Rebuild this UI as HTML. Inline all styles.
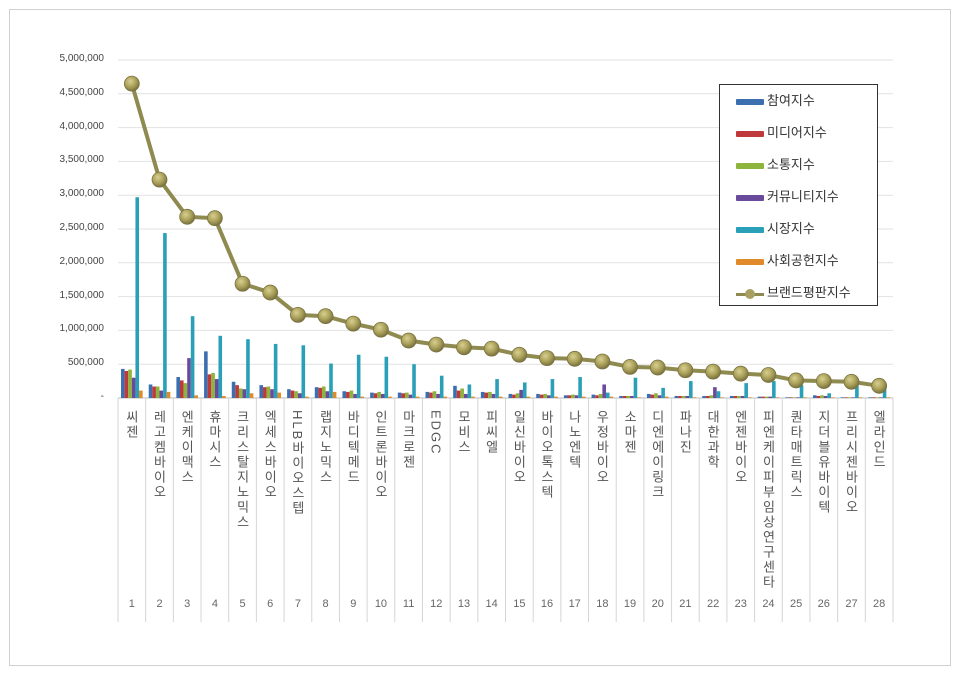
<!DOCTYPE html>
<html><head><meta charset="utf-8">
<style>
body{margin:0;width:960px;height:673px;background:#fff;position:relative;overflow:hidden;font-family:"Liberation Sans","Noto Sans CJK KR",sans-serif}
#frame{position:absolute;left:9px;top:9px;width:940px;height:655px;border:1px solid #d0d0d0}
.yl{position:absolute;width:80px;text-align:right;font-size:10px;color:#444;left:24px}
.xl{position:absolute;writing-mode:vertical-rl;text-orientation:mixed;font-size:13px;color:#555;top:410px;letter-spacing:2px;line-height:14px}
.num{position:absolute;font-size:11px;color:#666;top:598px;width:28px;text-align:center}
#leg{position:absolute;left:719px;top:84px;width:157px;height:220px;border:1px solid #333;background:#fff}
.li{position:absolute;left:16px;font-size:13px;color:#333;height:20px;line-height:20px}
.sw{display:inline-block;width:28px;height:6px;margin-right:3px;vertical-align:middle;border-radius:1px}
</style></head><body>
<div id="frame"></div>
<svg id="s" width="960" height="673" style="position:absolute;left:0;top:0"></svg>
<div id="lbl"></div>
<div id="leg">
<div class="li" style="top:6px"><span class="sw" style="background:#3c6fb0"></span>참여지수</div>
<div class="li" style="top:38px"><span class="sw" style="background:#c0393a"></span>미디어지수</div>
<div class="li" style="top:70px"><span class="sw" style="background:#8db43c"></span>소통지수</div>
<div class="li" style="top:102px"><span class="sw" style="background:#6a4a9a"></span>커뮤니티지수</div>
<div class="li" style="top:134px"><span class="sw" style="background:#2aa0b8"></span>시장지수</div>
<div class="li" style="top:166px"><span class="sw" style="background:#e08a2a"></span>사회공헌지수</div>
<div class="li" style="top:198px"><span style="display:inline-block;width:28px;height:12px;margin-right:3px;vertical-align:middle;position:relative"><span style="position:absolute;left:0;top:5px;width:28px;height:3px;background:#8e8a50"></span><span style="position:absolute;left:9px;top:1px;width:10px;height:10px;border-radius:50%;background:#a8a060"></span></span>브랜드평판지수</div>
</div>
<script>
const names=["씨젠","레고켐바이오","엔케이맥스","휴마시스","크리스탈지노믹스","엑세스바이오","HLB바이오스텝","랩지노믹스","바디텍메드","인트론바이오","마크로젠","EDGC","모비스","피씨엘","일신바이오","바이오톡스텍","나노엔텍","우정바이오","소마젠","디엔에이링크","파나진","대한과학","엔젠바이오","피엔케이피부임상연구센타","퀀타매트릭스","지더블유바이텍","프리시젠바이오","엘라인드"];
const line=[4650,3230,2680,2660,1690,1560,1230,1210,1100,1010,850,790,750,730,640,590,580,540,460,450,410,390,360,340,260,250,240,180];
const bars=[[430,400,420,300,2970,110],[200,170,170,110,2440,90],[310,260,220,590,1210,40],[690,350,370,280,920,30],[240,190,140,130,870,70],[190,160,170,130,800,80],[130,110,100,70,780,20],[160,150,170,100,510,90],[100,90,110,60,640,20],[80,70,90,60,610,20],[80,70,80,50,500,20],[90,80,100,60,330,20],[180,110,140,60,200,20],[90,80,90,60,280,20],[60,50,70,120,230,20],[60,50,60,40,280,20],[40,40,50,40,310,20],[50,40,60,200,80,20],[30,30,30,30,300,10],[60,50,70,40,150,20],[30,30,30,30,250,10],[30,30,40,160,100,10],[30,30,30,30,220,10],[20,20,20,20,250,10],[10,10,10,10,190,10],[40,30,40,30,70,10],[10,10,10,10,190,10],[10,10,10,10,160,10]];
const cols=["#3c6fb0","#c0393a","#8db43c","#6a4a9a","#2aa0b8","#e08a2a"];
const y0=398,sc=(398-60)/5000,x0=118,cw=(893-118)/28;
let h="";
for(let i=0;i<=10;i++){const y=y0-i*500*sc;
 if(i>0)h+=`<line x1="118" x2="893" y1="${y}" y2="${y}" stroke="#e2e2e2"/>`;
 const t=i==0?"-":(i*500000).toLocaleString("en-US");
 document.getElementById("lbl").insertAdjacentHTML("beforeend",`<div class="yl" style="top:${y-7}px">${t}</div>`);}
h+=`<line x1="118" x2="893" y1="398" y2="398" stroke="#bbb"/>`;
for(let i=0;i<=28;i++){const x=x0+i*cw;h+=`<line x1="${x}" x2="${x}" y1="398" y2="622" stroke="#d5d5d5"/>`;}
for(let i=0;i<28;i++){const c=x0+i*cw+cw/2,bw=3.6,st=c-3*bw;
 bars[i].forEach((v,k)=>{const bh=v*sc;h+=`<rect x="${st+k*bw}" y="${y0-bh}" width="${bw}" height="${bh}" fill="${cols[k]}"/>`;});
 document.getElementById("lbl").insertAdjacentHTML("beforeend",`<div class="xl" style="left:${c-8}px">${names[i]}</div><div class="num" style="left:${c-14}px">${i+1}</div>`);}
let p=line.map((v,i)=>`${x0+i*cw+cw/2},${y0-v*sc}`).join(" ");
h+=`<defs><radialGradient id="g" cx="40%" cy="35%" r="65%"><stop offset="0" stop-color="#d8d090"/><stop offset="0.6" stop-color="#a89e58"/><stop offset="1" stop-color="#7a7240"/></radialGradient></defs>`;
h+=`<polyline points="${p}" fill="none" stroke="#8e8a50" stroke-width="4"/>`;
line.forEach((v,i)=>{h+=`<circle cx="${x0+i*cw+cw/2}" cy="${y0-v*sc}" r="7.5" fill="url(#g)" stroke="#7a7240" stroke-width="0.8"/>`;});
document.getElementById("s").innerHTML=h;
</script>
</body></html>
